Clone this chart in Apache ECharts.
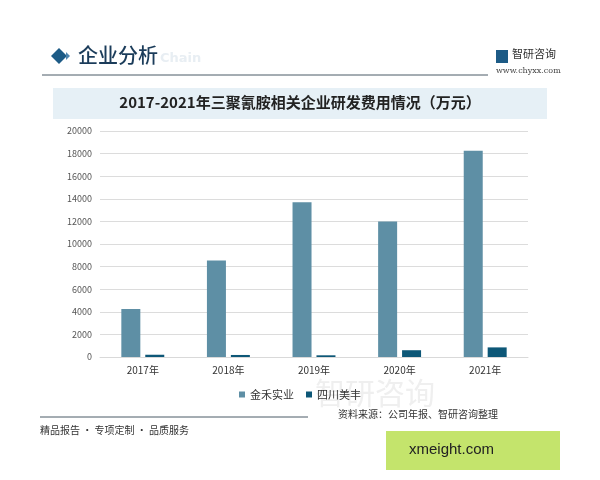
<!DOCTYPE html>
<html><head><meta charset="utf-8">
<script src="https://cdn.jsdelivr.net/npm/echarts@6/dist/echarts.min.js"></script>
<style>html,body{margin:0;padding:0;background:#fff}#c{width:600px;height:480px}</style>
</head><body><div id="c"></div>
<script>
const categories = ['2017年','2018年','2019年','2020年','2021年'];
const jinhe = [4250, 8550, 13700, 12000, 18250];
const sichuan = [200, 180, 150, 600, 850];
const yTicks = {min:0, max:20000, interval:2000};
const seriesNames = ['金禾实业','四川美丰'];

const chart = echarts.init(document.getElementById('c'));
const font = '"Noto Sans CJK SC", "Noto Sans", sans-serif';
chart.setOption({
  animation:false,
  backgroundColor:'#fff',
  textStyle:{fontFamily:font},
  grid:{left:100,right:72,top:131,bottom:123},
  legend:{
    data:seriesNames, top:384, left:'center', itemWidth:6, itemHeight:6, itemGap:12,
    icon:'rect', textStyle:{fontSize:11,color:'#333',fontFamily:font}
  },
  xAxis:{type:'category',data:categories,
    axisLine:{lineStyle:{color:'#d9d9d9'}},axisTick:{show:false},
    axisLabel:{fontSize:10,color:'#333',margin:8}},
  yAxis:{type:'value',min:yTicks.min,max:yTicks.max,interval:yTicks.interval,
    axisLine:{show:false},axisTick:{show:false},
    axisLabel:{fontSize:9,color:'#555',margin:8,formatter:v=>String(v)},
    splitLine:{lineStyle:{color:'#dcdcdc'}}},
  series:[
    {name:seriesNames[0],type:'bar',data:jinhe,barWidth:19,barGap:'26%',itemStyle:{color:'#5e8fa5'}},
    {name:seriesNames[1],type:'bar',data:sichuan,barWidth:19,itemStyle:{color:'#0d5777'}}
  ],
  graphic:[
    {type:'text',left:315,top:378,silent:true,z:-1,style:{text:'智研咨询',font:'30px '+font,fill:'#efefef'}},
    {type:'polygon',shape:{points:[[51,56],[59,48],[67,56],[59,64]]},style:{fill:'#1d5b86'}},
    {type:'polygon',shape:{points:[[66,52],[70,56],[66,60]]},style:{fill:'#4f86b0'}},
    {type:'text',left:78,top:45,style:{text:'企业分析',font:'500 20px '+font,fill:'#1b3c5a'}},
    {type:'text',left:160,top:52,style:{text:'Chain',font:'bold 13px "DejaVu Sans"',fill:'#e8eef3'}},
    {type:'line',shape:{x1:42,y1:75,x2:488,y2:75},style:{stroke:'#4a5a66',lineWidth:1}},
    {type:'rect',shape:{x:496,y:50,width:12,height:13},style:{fill:'#1d5b86'}},
    {type:'text',left:512,top:48,style:{text:'智研咨询',font:'11px '+font,fill:'#333'}},
    {type:'text',left:496,top:67,style:{text:'www.chyxx.com',font:'8px "DejaVu Serif"',fill:'#444'}},
    {type:'rect',shape:{x:53,y:88,width:494,height:31},style:{fill:'#e6f0f6'}},
    {type:'text',left:'center',top:95,style:{text:'2017-2021年三聚氰胺相关企业研发费用情况（万元）',font:'bold 15px '+font,fill:'#222'}},
    {type:'line',shape:{x1:40,y1:417,x2:308,y2:417},style:{stroke:'#4a5a66',lineWidth:1}},
    {type:'text',left:40,top:425,style:{text:'精品报告 · 专项定制 · 品质服务',font:'10px '+font,fill:'#333'}},
    {type:'text',left:338,top:409,style:{text:'资料来源：公司年报、智研咨询整理',font:'10px '+font,fill:'#333'}},
    {type:'rect',shape:{x:386,y:431,width:174,height:39},style:{fill:'#c4e46c'}},
    {type:'text',left:409,top:442,style:{text:'xmeight.com',font:'15px "Liberation Sans"',fill:'#222'}}
  ]
});
</script></body></html>
